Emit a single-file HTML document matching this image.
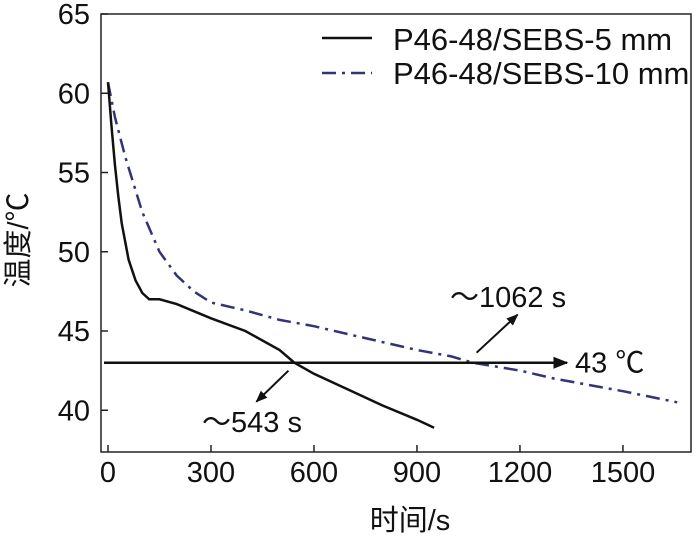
<!DOCTYPE html>
<html><head><meta charset="utf-8"><style>
body{margin:0;background:#fff}
svg text{font-family:"Liberation Sans","Noto Sans CJK SC",sans-serif;fill:#111}
</style></head><body>
<svg id="chart" width="696" height="541" viewBox="0 0 696 541" xmlns="http://www.w3.org/2000/svg">
<defs><marker id="ah" viewBox="0 0 10 10" refX="9" refY="5" markerWidth="6" markerHeight="6" orient="auto"><path d="M0,1 L10,5 L0,9 z" fill="#111"/></marker>
<marker id="ahb" viewBox="0 0 10 10" refX="9" refY="5" markerWidth="9" markerHeight="6" orient="auto"><path d="M0,1 L10,5 L0,9 z" fill="#111"/></marker></defs>
<g id="g"></g>
</svg>
<script>
const xTicks=[0,300,600,900,1200,1500];
const yTicks=[40,45,50,55,60,65];
const t5=[0,10,20,30,40,60,80,100,120,150,200,300,400,500,543,600,700,800,900,950];
const v5=[60.7,58,55.5,53.5,51.8,49.5,48.2,47.4,47,47,46.7,45.8,45,43.8,43,42.3,41.3,40.3,39.4,38.9];
const t10=[0,20,50,100,150,200,250,300,400,500,600,700,800,900,1000,1062,1200,1300,1400,1500,1658];
const v10=[60.7,58.5,56,52.5,50,48.5,47.5,46.8,46.3,45.7,45.3,44.8,44.3,43.8,43.4,43,42.5,42,41.6,41.2,40.5];
const threshold=43, t5cross=543, t10cross=1062;
const X=t=>108+t*0.3433, Y=v=>14+(65-v)*15.85;
const g=document.getElementById('g'),NS='http://www.w3.org/2000/svg';
function el(tag,attrs,parent){const e=document.createElementNS(NS,tag);for(const k in attrs)e.setAttribute(k,attrs[k]);(parent||g).appendChild(e);return e;}
let e=el('rect',{x:101,y:14,width:590,height:438,fill:'none',stroke:'#222','stroke-width':1.5});

xTicks.forEach(t=>{
 let l=el('line',{x1:X(t),x2:X(t),y1:452,y2:445,stroke:'#222','stroke-width':1.5});
 
 let tx=el('text',{x:X(t),y:482,'text-anchor':'middle','font-size':29});tx.textContent=t;
 
});
yTicks.forEach(v=>{
 let l=el('line',{x1:101,x2:108,y1:Y(v),y2:Y(v),stroke:'#222','stroke-width':1.5});
 
 let tx=el('text',{x:90,y:Y(v)+10,'text-anchor':'end','font-size':29});tx.textContent=v;
 
});
let xt=el('text',{x:410,y:530,'text-anchor':'middle','font-size':29});xt.textContent='时间/s';

let yt=el('text',{x:0,y:0,'text-anchor':'middle','font-size':29,transform:'translate(28,240) rotate(-90)'});yt.textContent='温度/℃';

function path(ts,vs){return ts.map((t,i)=>(i?'L':'M')+X(t).toFixed(1)+','+Y(vs[i]).toFixed(1)).join('');}
let s1=el('path',{d:path(t10,v10),fill:'none',stroke:'#33337a','stroke-width':2.5,'stroke-dasharray':'14,6,3,6'});

let s2=el('path',{d:path(t5,v5),fill:'none',stroke:'#111','stroke-width':2.5});

let h=el('line',{x1:104,x2:567,y1:Y(threshold),y2:Y(threshold),stroke:'#111','stroke-width':2.5,'marker-end':'url(#ahb)'});

let ht=el('text',{x:575,y:Y(threshold)+10,'font-size':29});ht.textContent='43 ℃';

let a1=el('line',{x1:X(t5cross)-6,y1:Y(threshold)+8,x2:X(t5cross)-38,y2:Y(threshold)+39,stroke:'#111','stroke-width':2,'marker-end':'url(#ah)'});

let at1=el('text',{x:202,y:432,'font-size':29});at1.textContent='～543 s';

let a2=el('line',{x1:X(t10cross)+4,y1:Y(threshold)-10,x2:X(t10cross)+45,y2:Y(threshold)-48,stroke:'#111','stroke-width':2,'marker-end':'url(#ah)'});

let at2=el('text',{x:450,y:307,'font-size':29});at2.textContent='～1062 s';

let l1=el('line',{x1:322,x2:372,y1:38,y2:38,stroke:'#111','stroke-width':2.5});

let lt1=el('text',{x:393,y:50,'font-size':31});lt1.textContent='P46-48/SEBS-5 mm';

let l2=el('line',{x1:322,x2:372,y1:73,y2:73,stroke:'#33337a','stroke-width':2.5,'stroke-dasharray':'14,6,3,6'});

let lt2=el('text',{x:393,y:84,'font-size':31});lt2.textContent='P46-48/SEBS-10 mm';

</script>
</body></html>
